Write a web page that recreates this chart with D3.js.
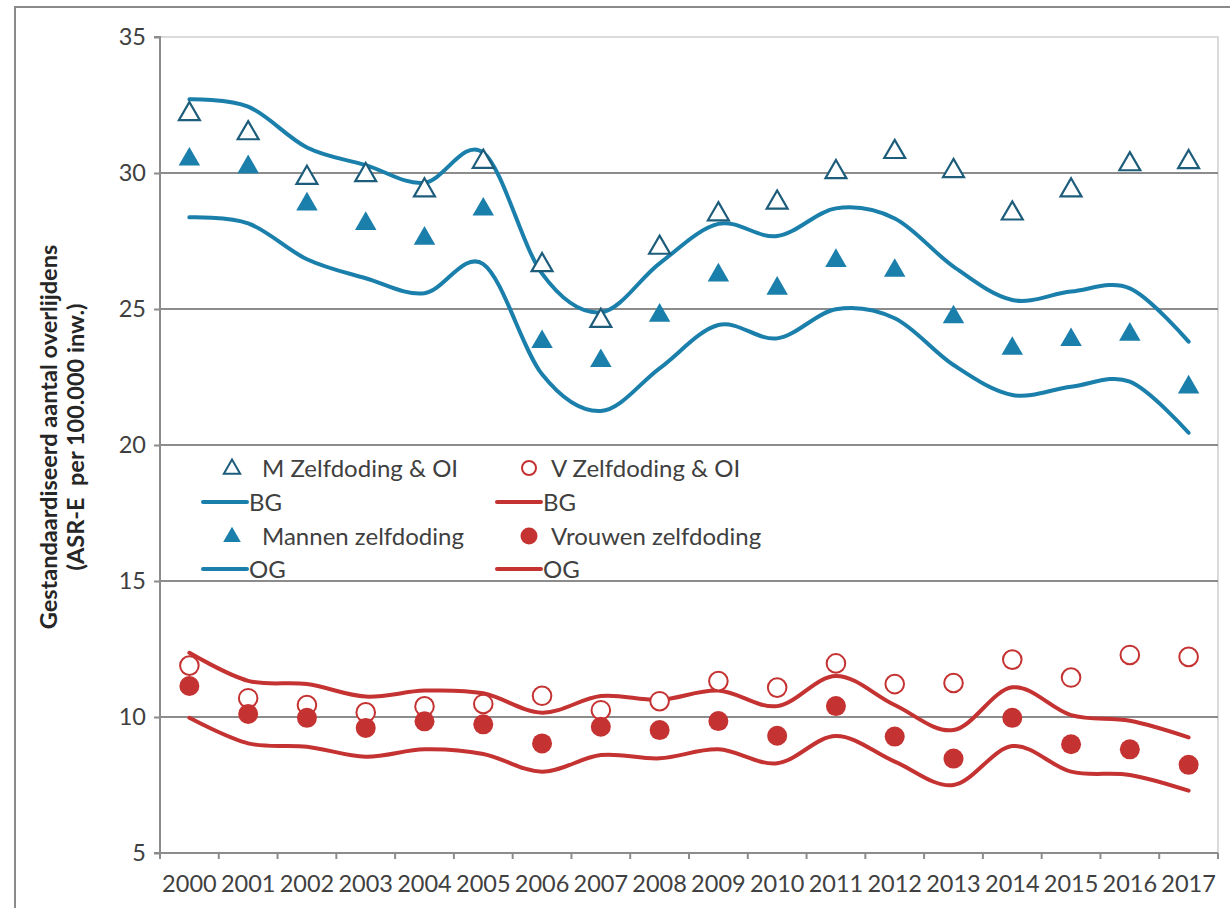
<!DOCTYPE html>
<html>
<head>
<meta charset="utf-8">
<script src="https://cdn.jsdelivr.net/npm/d3@7"></script>
<style>
  html, body { margin: 0; padding: 0; background: #fff; }
  svg text { font-family: Lato, "Open Sans", sans-serif; }
</style>
</head>
<body>
<svg id="chart" width="1230" height="908"></svg>
<script>
const years = ["2000","2001","2002","2003","2004","2005","2006","2007","2008","2009","2010","2011","2012","2013","2014","2015","2016","2017"];
const yTicks = [5, 10, 15, 20, 25, 30, 35];

// Men
const mZelfdodingOI = [32.2, 31.5, 29.86, 29.96, 29.4, 30.45, 26.65, 24.6, 27.29, 28.52, 28.95, 30.07, 30.81, 30.11, 28.55, 29.4, 30.36, 30.44];
const mZelfdoding   = [30.54, 30.26, 28.89, 28.17, 27.63, 28.7, 23.83, 23.13, 24.8, 26.28, 25.79, 26.81, 26.45, 24.74, 23.58, 23.9, 24.1, 22.16];
const mBG = [32.71, 32.44, 30.94, 30.29, 29.64, 30.75, 26.3, 24.88, 26.68, 28.13, 27.68, 28.7, 28.33, 26.56, 25.33, 25.64, 25.76, 23.8];
const mOG = [28.37, 28.15, 26.83, 26.13, 25.58, 26.65, 22.6, 21.25, 22.82, 24.41, 23.92, 24.99, 24.66, 22.94, 21.84, 22.14, 22.33, 20.45];

// Women
const vZelfdodingOI = [11.89, 10.69, 10.44, 10.17, 10.39, 10.48, 10.78, 10.25, 10.58, 11.32, 11.08, 11.97, 11.21, 11.25, 12.11, 11.45, 12.28, 12.21];
const vZelfdoding   = [11.14, 10.11, 9.97, 9.6, 9.84, 9.73, 9.03, 9.64, 9.52, 9.85, 9.31, 10.4, 9.28, 8.47, 9.97, 9.0, 8.81, 8.24];
const vBG = [12.36, 11.33, 11.21, 10.75, 10.97, 10.87, 10.16, 10.77, 10.63, 10.97, 10.4, 11.51, 10.44, 9.52, 11.09, 10.07, 9.86, 9.25];
const vOG = [9.97, 9.03, 8.91, 8.54, 8.81, 8.64, 7.99, 8.6, 8.48, 8.81, 8.3, 9.3, 8.36, 7.5, 8.93, 7.99, 7.87, 7.29];

const BLUE = "#1b7fab";
const BLUE_DARK = "#1d5d7b";
const RED = "#c53232";
const GRID = "#8c8c8c";
const TEXT = "#404040";

const svg = d3.select("#chart");
const W = 1230, H = 908;
const plot = { left: 160, right: 1218, top: 37, bottom: 853 };

// outer frame
svg.append("rect").attr("x", 15).attr("y", 7).attr("width", W).attr("height", H)
  .attr("fill", "#fff").attr("stroke", "#8a8a8a").attr("stroke-width", 2);

const x = d3.scaleBand().domain(years).range([plot.left, plot.right]).padding(0);
const cx = d => x(d) + x.bandwidth() / 2;
const y = d3.scaleLinear().domain([5, 35]).range([plot.bottom, plot.top]);

// plot area light border (top + right)
svg.append("path")
  .attr("d", `M${plot.left},${plot.top}H${plot.right}V${plot.bottom}`)
  .attr("fill", "none").attr("stroke", "#dadada").attr("stroke-width", 2);

// gridlines
svg.append("g").selectAll("line").data(yTicks.filter(t => t > 5 && t < 35)).join("line")
  .attr("x1", plot.left).attr("x2", plot.right)
  .attr("y1", d => y(d)).attr("y2", d => y(d))
  .attr("stroke", GRID).attr("stroke-width", 2);

// y axis
const yAxis = d3.axisLeft(y).tickValues(yTicks).tickSize(6).tickPadding(8).tickFormat(d3.format("d"));
const gy = svg.append("g").attr("transform", `translate(${plot.left},0)`).call(yAxis);
gy.select(".domain").attr("stroke", GRID).attr("stroke-width", 2).attr("d", `M-6,${y(35)}H0V${y(5)}H-6`);
gy.selectAll(".tick line").attr("stroke", GRID).attr("stroke-width", 2);
gy.selectAll(".tick text").attr("font-size", 23.5).attr("fill", TEXT).attr("font-family", "Lato, sans-serif");

// x axis
const xAxis = d3.axisBottom(x).tickSize(0).tickPadding(22);
const gx = svg.append("g").attr("transform", `translate(0,${plot.bottom})`).call(xAxis);
gx.select(".domain").attr("stroke", GRID).attr("stroke-width", 2).attr("d", `M${plot.left},0H${plot.right}`);
gx.selectAll(".tick text").attr("font-size", 23.5).attr("fill", TEXT).attr("font-family", "Lato, sans-serif");
// boundary ticks
svg.append("g").selectAll("line").data(years.concat(["end"])).join("line")
  .attr("x1", (d, i) => i < years.length ? x(d) : plot.right)
  .attr("x2", (d, i) => i < years.length ? x(d) : plot.right)
  .attr("y1", plot.bottom).attr("y2", plot.bottom + 6)
  .attr("stroke", GRID).attr("stroke-width", 2);

// y axis title
const title = svg.append("text")
  .attr("transform", `translate(0,${(plot.top + plot.bottom) / 2 - 8}) rotate(-90)`)
  .attr("text-anchor", "middle").attr("font-weight", "bold").attr("font-size", 23.5).attr("fill", "#262626")
  .style("white-space", "pre");
title.append("tspan").attr("x", 0).attr("y", 57).text("Gestandaardiseerd aantal overlijdens");
title.append("tspan").attr("x", 0).attr("y", 84).text("(ASR-E  per 100.000 inw.)");

// lines
const line = d3.line().x((d, i) => cx(years[i])).y(d => y(d)).curve(d3.curveCatmullRom.alpha(0));
[[mBG, BLUE], [mOG, BLUE], [vBG, RED], [vOG, RED]].forEach(([arr, c]) => {
  svg.append("path").datum(arr).attr("d", line)
    .attr("fill", "none").attr("stroke", c).attr("stroke-width", 4).attr("stroke-linecap", "round");
});

// markers
const tri = (s) => d3.symbol().type(d3.symbolTriangle).size(s)();
svg.append("g").selectAll("path").data(mZelfdodingOI).join("path")
  .attr("d", tri(190))
  .attr("transform", (d, i) => `translate(${cx(years[i])},${y(d) + 1})`)
  .attr("fill", "#fff").attr("stroke", BLUE_DARK).attr("stroke-width", 2.2);
svg.append("g").selectAll("path").data(mZelfdoding).join("path")
  .attr("d", tri(200))
  .attr("transform", (d, i) => `translate(${cx(years[i])},${y(d) + 1})`)
  .attr("fill", BLUE);
svg.append("g").selectAll("circle").data(vZelfdodingOI).join("circle")
  .attr("cx", (d, i) => cx(years[i])).attr("cy", d => y(d)).attr("r", 9.3)
  .attr("fill", "#fff").attr("stroke", RED).attr("stroke-width", 2);
svg.append("g").selectAll("circle").data(vZelfdoding).join("circle")
  .attr("cx", (d, i) => cx(years[i])).attr("cy", d => y(d)).attr("r", 10)
  .attr("fill", RED);

// legend
const legend = svg.append("g");
const legendItems = [
  { col: 0, row: 0, type: "triOpen", label: "M Zelfdoding & OI" },
  { col: 1, row: 0, type: "circOpen", label: "V Zelfdoding & OI" },
  { col: 0, row: 1, type: "lineB", label: "BG" },
  { col: 1, row: 1, type: "lineR", label: "BG" },
  { col: 0, row: 2, type: "triFill", label: "Mannen zelfdoding" },
  { col: 1, row: 2, type: "circFill", label: "Vrouwen zelfdoding" },
  { col: 0, row: 3, type: "lineB", label: "OG" },
  { col: 1, row: 3, type: "lineR", label: "OG" }
];
const colX = [203, 497];
const rowY = [468, 502, 536, 569];
legendItems.forEach(it => {
  const x0 = colX[it.col], yy = rowY[it.row];
  const g = legend.append("g");
  let tx;
  if (it.type === "triOpen") {
    g.append("path").attr("d", tri(115)).attr("transform", `translate(${x0 + 29},${yy + 1})`)
      .attr("fill", "#fff").attr("stroke", BLUE_DARK).attr("stroke-width", 2);
    tx = x0 + 59;
  } else if (it.type === "triFill") {
    g.append("path").attr("d", tri(135)).attr("transform", `translate(${x0 + 29},${yy + 1})`)
      .attr("fill", BLUE);
    tx = x0 + 59;
  } else if (it.type === "circOpen") {
    g.append("circle").attr("cx", x0 + 32).attr("cy", yy).attr("r", 7)
      .attr("fill", "#fff").attr("stroke", RED).attr("stroke-width", 2);
    tx = x0 + 54;
  } else if (it.type === "circFill") {
    g.append("circle").attr("cx", x0 + 32).attr("cy", yy).attr("r", 8.5).attr("fill", RED);
    tx = x0 + 54;
  } else {
    g.append("line").attr("x1", x0).attr("x2", x0 + 44).attr("y1", yy).attr("y2", yy)
      .attr("stroke", it.type === "lineB" ? BLUE : RED).attr("stroke-width", 4).attr("stroke-linecap", "round");
    tx = x0 + 46;
  }
  g.append("text").attr("x", tx).attr("y", yy).attr("dy", "0.36em")
    .attr("font-size", 24).attr("fill", TEXT).text(it.label);
});
</script>
</body>
</html>
